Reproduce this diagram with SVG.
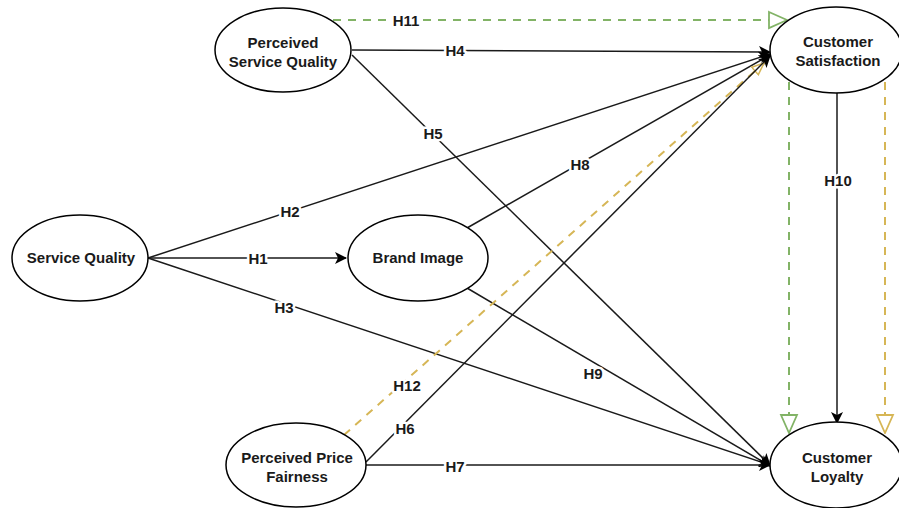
<svg xmlns="http://www.w3.org/2000/svg" width="899" height="508" viewBox="0 0 899 508">
<defs>
<style>
.node ellipse{fill:#fff;stroke:#000;stroke-width:1.5}
.node text{font-family:"Liberation Sans",Arial,sans-serif;font-weight:bold;font-size:15px;fill:#1a1a1a;text-anchor:middle}
.e{fill:none;stroke:#1a1a1a;stroke-width:1.5}
.g{fill:none;stroke:#82b366;stroke-width:2;stroke-dasharray:8 7}
.o{fill:none;stroke:#d6b656;stroke-width:2;stroke-dasharray:8 7}
.lbl{font-family:"Liberation Sans",Arial,sans-serif;font-weight:bold;font-size:15px;fill:#1a1a1a;text-anchor:middle;stroke:#fff;stroke-width:5;paint-order:stroke;stroke-linejoin:round}
</style>
<marker id="af" viewBox="0 0 12 12" refX="11" refY="6" markerWidth="12" markerHeight="12" markerUnits="userSpaceOnUse" orient="auto">
<path d="M0,0 L12,6 L0,12 L3,6 Z" fill="#000"/>
</marker>
<marker id="ag" viewBox="0 0 20 20" refX="19" refY="10" markerWidth="20" markerHeight="20" markerUnits="userSpaceOnUse" orient="auto">
<path d="M1,2 L19,10 L1,18 Z" fill="#fff" stroke="#82b366" stroke-width="1.8"/>
</marker>
<marker id="ao" viewBox="0 0 20 20" refX="19" refY="10" markerWidth="20" markerHeight="20" markerUnits="userSpaceOnUse" orient="auto">
<path d="M1,2 L19,10 L1,18 Z" fill="#fff" stroke="#d6b656" stroke-width="1.8"/>
</marker>
<marker id="aos" viewBox="0 0 14 14" refX="13" refY="7" markerWidth="14" markerHeight="14" markerUnits="userSpaceOnUse" orient="auto">
<path d="M1,2 L13,7 L1,12 Z" fill="#fff" stroke="#d6b656" stroke-width="1.5"/>
</marker>
</defs>
<rect width="899" height="508" fill="#fff"/>
<g id="connectors">
<path class="g" d="M333,20 L787,20" marker-end="url(#ag)"/>
<path class="e" d="M352,50 L770,52" marker-end="url(#af)"/>
<path class="e" d="M148,258 L770,54" marker-end="url(#af)"/>
<path class="e" d="M148,258 L346,258" marker-end="url(#af)"/>
<path class="e" d="M148,258 L770,465" marker-end="url(#af)"/>
<path class="e" d="M352,55 L770,465" marker-end="url(#af)"/>
<path class="e" d="M467,228 L770,55" marker-end="url(#af)"/>
<path class="e" d="M467,288 L770,466" marker-end="url(#af)"/>
<path class="o" d="M344,435 L764,63" marker-end="url(#aos)"/>
<path class="e" d="M366,462 L770,56" marker-end="url(#af)"/>
<path class="e" d="M366,465 L770,465" marker-end="url(#af)"/>
<path class="e" d="M837,93 L837,423" marker-end="url(#af)"/>
<path class="g" d="M789,82 L789,433" marker-end="url(#ag)"/>
<path class="o" d="M885,82 L885,433" marker-end="url(#ao)"/>
<text class="lbl" x="406" y="26">H11</text>
<text class="lbl" x="455" y="56">H4</text>
<text class="lbl" x="290" y="217">H2</text>
<text class="lbl" x="258" y="264">H1</text>
<text class="lbl" x="284" y="313">H3</text>
<text class="lbl" x="433" y="139">H5</text>
<text class="lbl" x="580" y="170">H8</text>
<text class="lbl" x="593" y="379">H9</text>
<text class="lbl" x="407" y="391">H12</text>
<text class="lbl" x="405" y="434">H6</text>
<text class="lbl" x="455" y="472">H7</text>
<text class="lbl" x="838" y="186">H10</text>
</g>
<g id="perceived-service-quality" class="node">
<ellipse cx="283" cy="50" rx="68" ry="42"/>
<text x="283" y="48">Perceived</text>
<text x="283" y="67">Service Quality</text>
</g>
<g id="customer-satisfaction" class="node">
<ellipse cx="836" cy="50" rx="66" ry="43"/>
<text x="838" y="47">Customer</text>
<text x="838" y="66">Satisfaction</text>
</g>
<g id="service-quality" class="node">
<ellipse cx="80" cy="258" rx="68" ry="43"/>
<text x="81" y="263">Service Quality</text>
</g>
<g id="brand-image" class="node">
<ellipse cx="418" cy="258" rx="70" ry="43"/>
<text x="418" y="263">Brand Image</text>
</g>
<g id="perceived-price-fairness" class="node">
<ellipse cx="296" cy="465" rx="70" ry="42"/>
<text x="297" y="463">Perceived Price</text>
<text x="297" y="482">Fairness</text>
</g>
<g id="customer-loyalty" class="node">
<ellipse cx="836" cy="465" rx="66" ry="43"/>
<text x="837" y="463">Customer</text>
<text x="837" y="482">Loyalty</text>
</g>
</svg>
